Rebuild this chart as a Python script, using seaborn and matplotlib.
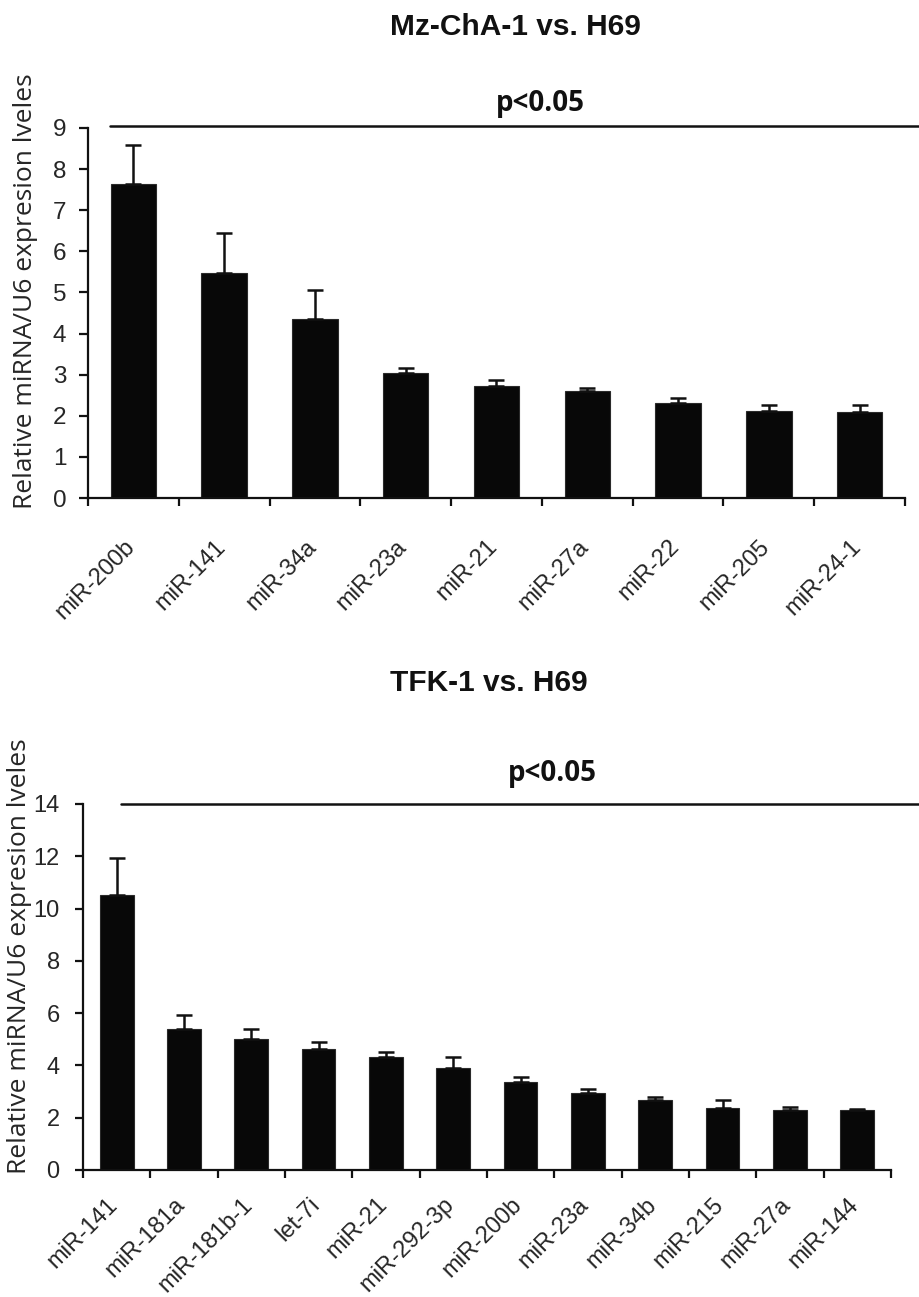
import numpy as np
import pandas as pd
import matplotlib
matplotlib.use("Agg")
import matplotlib.pyplot as plt
import seaborn as sns

# Mz-ChA-1 vs. H69
mz_labels = ["miR-200b", "miR-141", "miR-34a", "miR-23a", "miR-21",
             "miR-27a", "miR-22", "miR-205", "miR-24-1"]
mz_values = [7.64, 5.48, 4.35, 3.03, 2.72, 2.61, 2.30, 2.12, 2.08]
mz_errors = [0.95, 0.96, 0.71, 0.13, 0.15, 0.07, 0.14, 0.14, 0.18]

# TFK-1 vs. H69
tfk_labels = ["miR-141", "miR-181a", "miR-181b-1", "let-7i", "miR-21",
              "miR-292-3p", "miR-200b", "miR-23a", "miR-34b", "miR-215",
              "miR-27a", "miR-144"]
tfk_values = [10.52, 5.38, 5.00, 4.62, 4.32, 3.91, 3.35, 2.95, 2.67, 2.37, 2.28, 2.28]
tfk_errors = [1.40, 0.54, 0.38, 0.29, 0.21, 0.41, 0.21, 0.13, 0.11, 0.32, 0.12, 0.05]

YLABEL = "Relative miRNA/U6 expresion lveles"

sns.set_theme(style="white")
plt.rcParams["font.family"] = ["Liberation Sans", "DejaVu Sans"]

W, H = 920, 1297
fig = plt.figure(figsize=(W / 100, H / 100), dpi=100)


def px_axes(left, right, top, bottom):
    return fig.add_axes([left / W, 1 - bottom / H, (right - left) / W, (bottom - top) / H])


def draw_panel(ax, labels, values, errors, ymax, yticks, sig_y, sig_x0, label_xy,
               ytick_size, ytick_len, ytick_pad, xtick_size, xpad, xshift):
    df = pd.DataFrame({"mirna": labels, "level": values})
    sns.barplot(data=df, x="mirna", y="level", color="#080808", width=0.5,
                saturation=1, errorbar=None, ax=ax, edgecolor="#2a2a2a", linewidth=0.8)
    x = np.arange(len(labels))
    ax.errorbar(x, values, yerr=[np.zeros(len(values)), errors], fmt="none",
                ecolor="#111111", elinewidth=1.8, capsize=6, capthick=1.8, zorder=3)
    n = len(labels)
    ax.set_xlim(-0.5, n - 0.5)
    ax.set_ylim(0, ymax)
    ax.set_yticks(yticks)
    ax.set_yticklabels([str(t) for t in yticks], fontsize=ytick_size)
    # ticks on category boundaries, rotated names hung just left of each bar centre
    ax.set_xticks(np.arange(n + 1) - 0.5)
    ax.set_xticklabels([""] * (n + 1))
    ax.set_xticks(x - xshift, minor=True)
    ax.set_xticklabels(labels, minor=True, rotation=45, ha="right",
                       rotation_mode="anchor", fontsize=xtick_size)
    ax.tick_params(axis="x", which="major", direction="out", length=6, width=1.6,
                   color="#111111", bottom=True)
    ax.tick_params(axis="x", which="minor", length=0, pad=xpad, bottom=True)
    ax.tick_params(axis="y", direction="out", length=ytick_len, width=1.6,
                   color="#111111", left=True, pad=ytick_pad)
    for side in ("top", "right"):
        ax.spines[side].set_visible(False)
    for side in ("left", "bottom"):
        ax.spines[side].set_linewidth(1.6)
        ax.spines[side].set_color("#111111")
    ax.set_xlabel("")
    ax.set_ylabel(YLABEL, fontsize=19, family=["Open Sans", "DejaVu Sans"])
    ax.yaxis.set_label_coords(*label_xy)
    # significance bracket across all bars
    ax.plot([sig_x0, n + 0.6], [sig_y, sig_y], color="#111111", lw=1.8, clip_on=False)


ax1 = px_axes(88, 905, 128, 498)
draw_panel(ax1, mz_labels, mz_values, mz_errors, 9, list(range(10)),
           9.06, -0.26, (-0.061, 0.56),
           ytick_size=17.5, ytick_len=6.5, ytick_pad=9,
           xtick_size=17, xpad=27, xshift=0.11)

ax2 = px_axes(83, 891, 804, 1170)
draw_panel(ax2, tfk_labels, tfk_values, tfk_errors, 14, list(range(0, 15, 2)),
           14.0, 0.07, (-0.063, 0.585),
           ytick_size=17, ytick_len=5.8, ytick_pad=11,
           xtick_size=17, xpad=17, xshift=0.15)

fig.text(515 / W, 1 - 27 / H, "Mz-ChA-1 vs. H69", ha="center", va="center",
         fontsize=21.5, fontweight="bold", color="#111111")
fig.text(489 / W, 1 - 683 / H, "TFK-1 vs. H69", ha="center", va="center",
         fontsize=21.5, fontweight="bold", color="#111111")
fig.text(540 / W, 1 - 103 / H, "p<0.05", ha="center", va="center",
         fontsize=20, fontweight="bold", family=["Open Sans", "DejaVu Sans"], color="#111111")
fig.text(552 / W, 1 - 773 / H, "p<0.05", ha="center", va="center",
         fontsize=20, fontweight="bold", family=["Open Sans", "DejaVu Sans"], color="#111111")

fig.savefig("out.png", dpi=100, facecolor="white")
